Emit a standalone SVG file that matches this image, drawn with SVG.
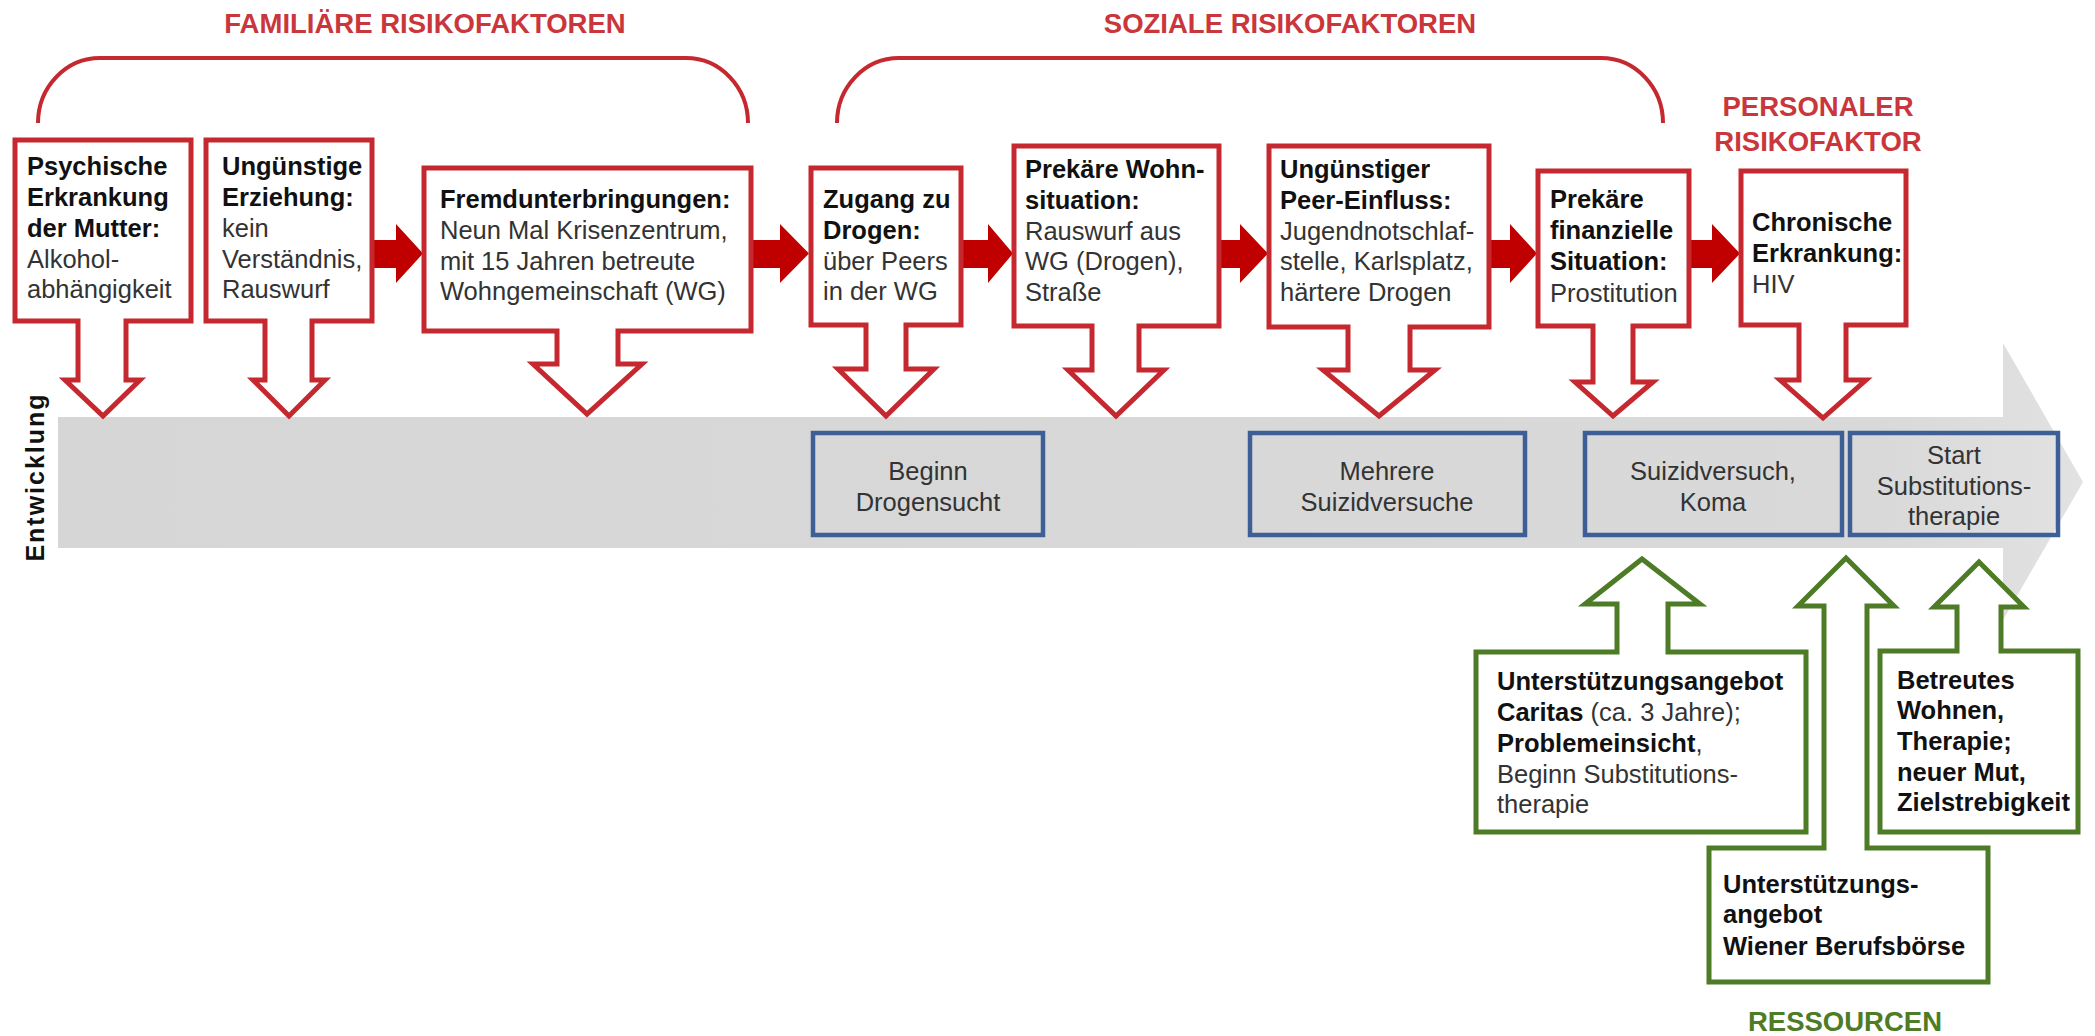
<svg xmlns="http://www.w3.org/2000/svg" width="2095" height="1036" viewBox="0 0 2095 1036">
<style>
  text { font-family: "Liberation Sans", Arial, sans-serif; }
  .t { font-size: 25.5px; fill: #333; }
  .b { font-weight: bold; fill: #111; }
  .title { font-size: 27.5px; font-weight: bold; fill: #c9363c; }
  .gtitle { font-size: 27.5px; font-weight: bold; fill: #4e7b26; }
  .red { fill: #fff; stroke: #c5282f; stroke-width: 5; stroke-linejoin: miter; }
  .green { fill: #fff; stroke: #4e7b26; stroke-width: 5; stroke-linejoin: miter; }
  .blue { fill: none; stroke: #3d5f95; stroke-width: 4.5; }
  .bt { font-size: 25.5px; fill: #333; text-anchor: middle; }
  .solid { fill: #c00000; }
  .brace { fill: none; stroke: #c5282f; stroke-width: 4; }
</style>
<defs>
  <linearGradient id="gbar" x1="0" y1="0" x2="1" y2="0">
    <stop offset="0" stop-color="#d6d6d6"/>
    <stop offset="0.9" stop-color="#d9d9d9"/>
    <stop offset="1" stop-color="#e2e2e2"/>
  </linearGradient>
</defs>

<rect width="2095" height="1036" fill="#fff"/>

<!-- Titles -->
<g id="titles">
  <text class="title" x="425" y="33" text-anchor="middle">FAMILIÄRE RISIKOFAKTOREN</text>
  <text class="title" x="1290" y="33" text-anchor="middle">SOZIALE RISIKOFAKTOREN</text>
  <text class="title" x="1818" y="116" text-anchor="middle">PERSONALER</text>
  <text class="title" x="1818" y="151" text-anchor="middle">RISIKOFAKTOR</text>
  <text class="gtitle" x="1845" y="1031" text-anchor="middle">RESSOURCEN</text>
</g>

<!-- Brackets -->
<g id="brackets">
  <path class="brace" d="M38,123 A62,65 0 0 1 100,58 H686 A62,65 0 0 1 748,123"/>
  <path class="brace" d="M837,123 A62,65 0 0 1 899,58 H1601 A62,65 0 0 1 1663,123"/>
</g>

<!-- Development bar -->
<g id="timeline">
  <path d="M58,417 H2003 V343 L2083,482 L2003,620 V548 H58 Z" fill="url(#gbar)"/>
  <text class="b" font-size="25" letter-spacing="2" text-anchor="middle" transform="translate(44,477) rotate(-90)">Entwicklung</text>
</g>

<!-- Connectors: red solid arrows between risk factors -->
<g id="connectors">
  <path class="solid" d="M372,240 H396 V224 L423,253.5 L396,283 V268 H372 Z"/>
  <path class="solid" d="M751,240 H780 V224 L809,253.5 L780,283 V268 H751 Z"/>
  <path class="solid" d="M961,240 H988 V224 L1013,253.5 L988,283 V268 H961 Z"/>
  <path class="solid" d="M1219,240 H1240 V224 L1268,253.5 L1240,283 V268 H1219 Z"/>
  <path class="solid" d="M1489,240 H1510 V224 L1537,253.5 L1510,283 V268 H1489 Z"/>
  <path class="solid" d="M1689,240 H1712 V224 L1740,253.5 L1712,283 V268 H1689 Z"/>
</g>

<!-- Red risk factor callouts -->
<g id="rf1">
  <path class="red" d="M15,140 H191 V321 H126 V380 H140 L103,416 L65,380 H78 V321 H15 Z"/>
  <text class="t" x="27"><tspan class="b" x="27" y="175">Psychische</tspan><tspan class="b" x="27" y="206">Erkrankung</tspan><tspan class="b" x="27" y="237">der Mutter:</tspan><tspan x="27" y="268">Alkohol-</tspan><tspan x="27" y="298">abhängigkeit</tspan></text>
</g>
<g id="rf2">
  <path class="red" d="M206,140 H372 V321 H312 V380 H325 L289,416 L253,380 H265 V321 H206 Z"/>
  <text class="t"><tspan class="b" x="222" y="175">Ungünstige</tspan><tspan class="b" x="222" y="206">Erziehung:</tspan><tspan x="222" y="237">kein</tspan><tspan x="222" y="268">Verständnis,</tspan><tspan x="222" y="298">Rauswurf</tspan></text>
</g>
<g id="rf3">
  <path class="red" d="M424,168 H751 V331 H618 V364 H642 L587,414 L533,364 H557 V331 H424 Z"/>
  <text class="t"><tspan class="b" x="440" y="208">Fremdunterbringungen:</tspan><tspan x="440" y="239">Neun Mal Krisenzentrum,</tspan><tspan x="440" y="270">mit 15 Jahren betreute</tspan><tspan x="440" y="300">Wohngemeinschaft (WG)</tspan></text>
</g>
<g id="rf4">
  <path class="red" d="M811,168 H961 V325 H906 V369 H934 L886,416 L838,369 H866 V325 H811 Z"/>
  <text class="t"><tspan class="b" x="823" y="208">Zugang zu</tspan><tspan class="b" x="823" y="239">Drogen:</tspan><tspan x="823" y="270">über Peers</tspan><tspan x="823" y="300">in der WG</tspan></text>
</g>
<g id="rf5">
  <path class="red" d="M1014,146 H1219 V326 H1139 V370 H1164 L1116,416 L1068,370 H1092 V326 H1014 Z"/>
  <text class="t"><tspan class="b" x="1025" y="178">Prekäre Wohn-</tspan><tspan class="b" x="1025" y="209">situation:</tspan><tspan x="1025" y="240">Rauswurf aus</tspan><tspan x="1025" y="270">WG (Drogen),</tspan><tspan x="1025" y="301">Straße</tspan></text>
</g>
<g id="rf6">
  <path class="red" d="M1269,146 H1489 V327 H1410 V370 H1435 L1379,416 L1323,370 H1348 V327 H1269 Z"/>
  <text class="t"><tspan class="b" x="1280" y="178">Ungünstiger</tspan><tspan class="b" x="1280" y="209">Peer-Einfluss:</tspan><tspan x="1280" y="240">Jugendnotschlaf-</tspan><tspan x="1280" y="270">stelle, Karlsplatz,</tspan><tspan x="1280" y="301">härtere Drogen</tspan></text>
</g>
<g id="rf7">
  <path class="red" d="M1538,171 H1689 V326 H1633 V382 H1653 L1613,416 L1575,382 H1593 V326 H1538 Z"/>
  <text class="t"><tspan class="b" x="1550" y="208">Prekäre</tspan><tspan class="b" x="1550" y="239">finanzielle</tspan><tspan class="b" x="1550" y="270">Situation:</tspan><tspan x="1550" y="302">Prostitution</tspan></text>
</g>
<g id="rf8">
  <path class="red" d="M1741,171 H1906 V325 H1846 V380 H1866 L1823,418 L1780,380 H1799 V325 H1741 Z"/>
  <text class="t"><tspan class="b" x="1752" y="231">Chronische</tspan><tspan class="b" x="1752" y="262">Erkrankung:</tspan><tspan x="1752" y="293">HIV</tspan></text>
</g>

<!-- Blue events on timeline -->
<g id="ev1">
  <rect class="blue" x="813" y="433" width="230" height="102"/>
  <text class="bt"><tspan x="928" y="480">Beginn</tspan><tspan x="928" y="511">Drogensucht</tspan></text>
</g>
<g id="ev2">
  <rect class="blue" x="1250" y="433" width="275" height="102"/>
  <text class="bt"><tspan x="1387" y="480">Mehrere</tspan><tspan x="1387" y="511">Suizidversuche</tspan></text>
</g>
<g id="ev3">
  <rect class="blue" x="1585" y="433" width="257" height="102"/>
  <text class="bt"><tspan x="1713" y="480">Suizidversuch,</tspan><tspan x="1713" y="511">Koma</tspan></text>
</g>
<g id="ev4">
  <rect class="blue" x="1850" y="433" width="208" height="102"/>
  <text class="bt"><tspan x="1954" y="464">Start</tspan><tspan x="1954" y="495">Substitutions-</tspan><tspan x="1954" y="525">therapie</tspan></text>
</g>

<!-- Green resources -->
<g id="res1">
  <path class="green" d="M1476,832 V652 H1617 V604 H1585 L1642,559 L1700,604 H1668 V652 H1806 V832 Z"/>
  <text class="t"><tspan class="b" x="1497" y="690">Unterstützungsangebot</tspan><tspan class="b" x="1497" y="721">Caritas</tspan><tspan> (ca. 3 Jahre);</tspan><tspan class="b" x="1497" y="752">Problemeinsicht</tspan><tspan>,</tspan><tspan x="1497" y="783">Beginn Substitutions-</tspan><tspan x="1497" y="813">therapie</tspan></text>
</g>
<g id="res2">
  <path class="green" d="M1709,982 V848 H1824 V606 H1798 L1846,558 L1894,606 H1867 V848 H1988 V982 Z"/>
  <text class="t"><tspan class="b" x="1723" y="893">Unterstützungs-</tspan><tspan class="b" x="1723" y="923">angebot</tspan><tspan class="b" x="1723" y="955">Wiener Berufsbörse</tspan></text>
</g>
<g id="res3">
  <path class="green" d="M1880,832 V651 H1957 V607 H1934 L1979,562 L2024,607 H2001 V651 H2078 V832 Z"/>
  <text class="t"><tspan class="b" x="1897" y="689">Betreutes</tspan><tspan class="b" x="1897" y="719">Wohnen,</tspan><tspan class="b" x="1897" y="750">Therapie;</tspan><tspan class="b" x="1897" y="781">neuer Mut,</tspan><tspan class="b" x="1897" y="811">Zielstrebigkeit</tspan></text>
</g>
</svg>
